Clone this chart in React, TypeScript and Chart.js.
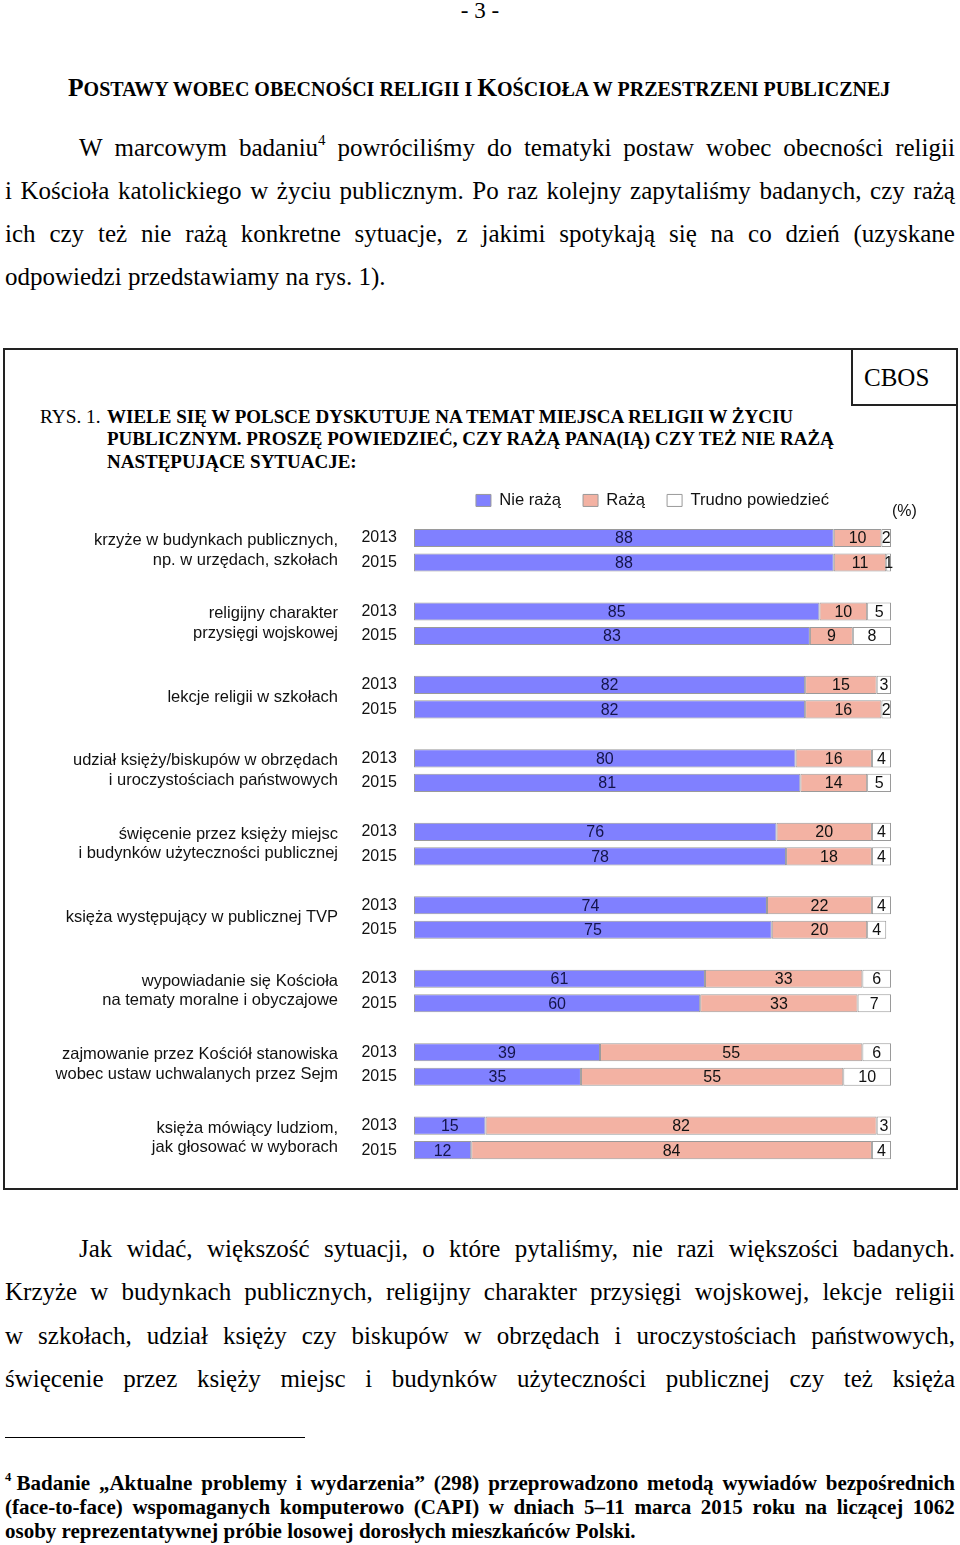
import React, { useEffect, useRef } from 'react';
import { Chart, registerables } from 'chart.js';

Chart.register(...registerables);

// ---------- DATA ----------
const groupLabels: string[][] = [
  ['krzyże w budynkach publicznych,', 'np. w urzędach, szkołach'],
  ['religijny charakter', 'przysięgi wojskowej'],
  ['lekcje religii w szkołach'],
  ['udział księży/biskupów w obrzędach', 'i uroczystościach państwowych'],
  ['święcenie przez księży miejsc', 'i budynków użyteczności publicznej'],
  ['księża występujący w publicznej TVP'],
  ['wypowiadanie się Kościoła', 'na tematy moralne i obyczajowe'],
  ['zajmowanie przez Kościół stanowiska', 'wobec ustaw uchwalanych przez Sejm'],
  ['księża mówiący ludziom,', 'jak głosować w wyborach'],
];
const years = ['2013', '2015'];
const seriesNames = ['Nie rażą', 'Rażą', 'Trudno powiedzieć'];

const nieRaza2013 = [88, 85, 82, 80, 76, 74, 61, 39, 15];
const nieRaza2015 = [88, 83, 82, 81, 78, 75, 60, 35, 12];
const raza2013 = [10, 10, 15, 16, 20, 22, 33, 55, 82];
const raza2015 = [11, 9, 16, 14, 18, 20, 33, 55, 84];
const trudno2013 = [2, 5, 3, 4, 4, 4, 6, 6, 3];
const trudno2015 = [1, 8, 2, 5, 4, 4, 7, 10, 4];

// ---------- STYLE ----------
const SERIF = '"Liberation Serif", "Times New Roman", serif';
const SANS = '"Liberation Sans", Arial, sans-serif';
const COLORS = ['#8080ff', '#f3b2a3', '#ffffff'];
const BORDER = '#9a9a9a';

function buildRows(a: number[], b: number[]): (number | null)[] {
  const out: (number | null)[] = [];
  a.forEach((v, i) => {
    out.push(v, b[i]);
    if (i < a.length - 1) out.push(null);
  });
  return out;
}

const categoryLabels: string[] = [];
groupLabels.forEach((_, i) => {
  categoryLabels.push(years[0], years[1]);
  if (i < groupLabels.length - 1) categoryLabels.push('');
});

const valueLabelPlugin = {
  id: 'valueLabels',
  afterDatasetsDraw(chart: any) {
    const ctx = chart.ctx;
    ctx.save();
    ctx.font = `16px ${SANS}`;
    ctx.textAlign = 'center';
    ctx.textBaseline = 'middle';
    chart.data.datasets.forEach((ds: any, di: number) => {
      const meta = chart.getDatasetMeta(di);
      meta.data.forEach((bar: any, idx: number) => {
        const v = ds.data[idx];
        if (v == null) return;
        const p = bar.getProps(['x', 'base', 'y'], true);
        ctx.fillStyle = di === 0 ? '#14144a' : '#111';
        ctx.fillText(String(v), (p.x + p.base) / 2, p.y + 1);
      });
    });
    ctx.restore();
  },
};

const groupLabelPlugin = {
  id: 'groupLabels',
  afterDraw(chart: any) {
    const ctx = chart.ctx;
    const yScale = chart.scales.y;
    ctx.save();
    ctx.font = `16.5px ${SANS}`;
    ctx.textAlign = 'right';
    ctx.textBaseline = 'middle';
    ctx.fillStyle = '#111';
    groupLabels.forEach((lines, g) => {
      const cy = (yScale.getPixelForValue(g * 3) + yScale.getPixelForValue(g * 3 + 1)) / 2;
      const lh = 19.5;
      const start = cy - ((lines.length - 1) * lh) / 2;
      lines.forEach((t, k) => ctx.fillText(t, 334, start + k * lh));
    });
    ctx.font = `16px ${SANS}`;
    ctx.textAlign = 'left';
    ctx.fillText('(%)', 888, 42);
    ctx.restore();
  },
};

function BarChart() {
  const ref = useRef<HTMLCanvasElement | null>(null);
  useEffect(() => {
    if (!ref.current) return;
    const datasets = [
      buildRows(nieRaza2013, nieRaza2015),
      buildRows(raza2013, raza2015),
      buildRows(trudno2013, trudno2015),
    ].map((data, i) => ({
      label: seriesNames[i],
      data,
      backgroundColor: COLORS[i],
      borderColor: BORDER,
      borderWidth: 1,
      borderSkipped: false,
      categoryPercentage: 1,
      barPercentage: 0.74,
    }));
    const chart = new Chart(ref.current, {
      type: 'bar',
      data: { labels: categoryLabels, datasets },
      plugins: [valueLabelPlugin, groupLabelPlugin],
      options: {
        indexAxis: 'y',
        responsive: false,
        animation: false,
        devicePixelRatio: 1,
        layout: { padding: { left: 0, right: 66, top: 0.15, bottom: 0 } },
        plugins: {
          tooltip: { enabled: false },
          legend: {
            display: true,
            position: 'top',
            fullSize: false,
            align: 'center',
            labels: {
              boxWidth: 15,
              boxHeight: 12,
              padding: 22,
              color: '#111',
              font: { family: SANS, size: 16.6 },
            },
          },
        },
        scales: {
          x: {
            type: 'linear',
            min: 0,
            max: 100,
            stacked: true,
            position: 'top',
            grid: { display: false },
            border: { display: false },
            ticks: { display: false },
            afterFit: (s: any) => {
              s.height = 7;
            },
          },
          y: {
            type: 'category',
            stacked: true,
            grid: { display: false, drawTicks: false },
            border: { display: false },
            ticks: {
              autoSkip: false,
              padding: 17,
              color: '#111',
              font: { family: SANS, size: 16 },
            },
            afterFit: (s: any) => {
              s.width = 410;
            },
          },
        },
      } as any,
    });
    return () => chart.destroy();
  }, []);
  return (
    <canvas
      ref={ref}
      width={953}
      height={719}
      style={{ position: 'absolute', left: 4, top: 470, width: 953, height: 719 }}
    />
  );
}

function renderWord(w: string) {
  const i = w.indexOf('^');
  if (i < 0) return w;
  const before = w.slice(0, i);
  const rest = w.slice(i + 1);
  const m = rest.match(/^(\d+)(.*)$/);
  if (!m) return w;
  return (
    <>
      {before}
      <span style={{ fontSize: '0.6em', position: 'relative', top: '-0.7em' }}>{m[1]}</span>
      {m[2]}
    </>
  );
}

type LineProps = {
  y: number;
  x: number;
  w: number;
  size: number;
  lh: number;
  text: string;
  bold?: boolean;
  justify?: boolean;
  extra?: React.CSSProperties;
};

function Line({ y, x, w, size, lh, text, bold, justify, extra }: LineProps) {
  const words = text.split(' ').filter((s) => s.length > 0);
  const base: React.CSSProperties = {
    position: 'absolute',
    left: x,
    top: y - lh / 2,
    width: w,
    height: lh,
    lineHeight: lh + 'px',
    fontFamily: SERIF,
    fontSize: size,
    fontWeight: bold ? 'bold' : 'normal',
    whiteSpace: 'nowrap',
    color: '#000',
    ...extra,
  };
  if (justify) {
    return (
      <div style={{ ...base, display: 'flex', justifyContent: 'space-between' }}>
        {words.map((wd, i) => (
          <span key={i}>{renderWord(wd)}</span>
        ))}
      </div>
    );
  }
  return (
    <div style={base}>
      {words.map((wd, i) => (
        <React.Fragment key={i}>
          {i > 0 ? ' ' : ''}
          {renderWord(wd)}
        </React.Fragment>
      ))}
    </div>
  );
}

const para1 = [
  'W marcowym badaniu^4 powróciliśmy do tematyki postaw wobec obecności religii',
  'i Kościoła katolickiego w życiu publicznym. Po raz kolejny zapytaliśmy badanych, czy rażą',
  'ich czy też nie rażą konkretne sytuacje, z jakimi spotykają się na co dzień (uzyskane',
  'odpowiedzi przedstawiamy na rys. 1).',
];
const para1Y = [147, 190, 233, 276];

const para2 = [
  'Jak widać, większość sytuacji, o które pytaliśmy, nie razi większości badanych.',
  'Krzyże w budynkach publicznych, religijny charakter przysięgi wojskowej, lekcje religii',
  'w szkołach, udział księży czy biskupów w obrzędach i uroczystościach państwowych,',
  'święcenie przez księży miejsc i budynków użyteczności publicznej czy też księża',
];
const para2Y = [1248, 1291, 1335, 1378];

const foot = [
  '^4\u00a0Badanie „Aktualne problemy i wydarzenia” (298) przeprowadzono metodą wywiadów bezpośrednich',
  '(face-to-face) wspomaganych komputerowo (CAPI) w dniach 5–11 marca 2015 roku na liczącej 1062',
  'osoby reprezentatywnej próbie losowej dorosłych mieszkańców Polski.',
];
const footY = [1483, 1507, 1531];

const titleLines = [
  'WIELE SIĘ W POLSCE DYSKUTUJE NA TEMAT MIEJSCA RELIGII W ŻYCIU',
  'PUBLICZNYM. PROSZĘ POWIEDZIEĆ, CZY RAŻĄ PANA(IĄ) CZY TEŻ NIE RAŻĄ',
  'NASTĘPUJĄCE SYTUACJE:',
];
const titleY = [416.5, 439, 461.5];

// heading parts: [text, isBigCap]
const headingParts: [string, boolean][] = [
  ['P', true],
  ['OSTAWY WOBEC OBECNOŚCI RELIGII I ', false],
  ['K', true],
  ['OŚCIOŁA W PRZESTRZENI PUBLICZNEJ', false],
];

export default function App() {
  return (
    <div
      style={{
        position: 'absolute',
        left: 0,
        top: 0,
        width: 960,
        height: 1545,
        background: '#fff',
        overflow: 'hidden',
      }}
    >
      <div
        style={{
          position: 'absolute',
          left: 0,
          top: 0,
          width: 960,
          textAlign: 'center',
          fontFamily: SERIF,
          fontSize: 23,
          lineHeight: '22px',
        }}
      >
        - 3 -
      </div>

      <div
        style={{
          position: 'absolute',
          left: 68,
          top: 75,
          width: 890,
          height: 26,
          lineHeight: '26px',
          fontFamily: SERIF,
          fontWeight: 'bold',
          whiteSpace: 'nowrap',
        }}
      >
        {headingParts.map(([t, big], i) => (
          <span key={i} style={{ fontSize: big ? 25.5 : 20 }}>
            {t}
          </span>
        ))}
      </div>

      {para1.map((t, i) => (
        <Line
          key={'p1' + i}
          y={para1Y[i]}
          x={i === 0 ? 79 : 5}
          w={i === 0 ? 876 : 950}
          size={25}
          lh={43}
          text={t}
          justify={i < 3}
        />
      ))}

      {/* chart frame */}
      <div
        style={{
          position: 'absolute',
          left: 3,
          top: 348,
          width: 955,
          height: 842,
          border: '2px solid #222',
          boxSizing: 'border-box',
        }}
      />
      <div
        style={{
          position: 'absolute',
          left: 851,
          top: 348,
          width: 107,
          height: 58,
          borderLeft: '2px solid #222',
          borderBottom: '2px solid #222',
          boxSizing: 'border-box',
          fontFamily: SERIF,
          fontSize: 25,
          lineHeight: '60px',
          paddingLeft: 11,
        }}
      >
        CBOS
      </div>

      <Line y={titleY[0]} x={40} w={70} size={19.3} lh={22} text="RYS. 1." />
      {titleLines.map((t, i) => (
        <Line key={'t' + i} y={titleY[i]} x={107} w={760} size={19} lh={22} bold text={t} />
      ))}

      <BarChart />

      {para2.map((t, i) => (
        <Line
          key={'p2' + i}
          y={para2Y[i]}
          x={i === 0 ? 79 : 5}
          w={i === 0 ? 876 : 950}
          size={25}
          lh={43}
          text={t}
          justify
        />
      ))}

      <div
        style={{
          position: 'absolute',
          left: 5,
          top: 1437,
          width: 300,
          height: 1,
          background: '#000',
        }}
      />

      {foot.map((t, i) => (
        <Line
          key={'f' + i}
          y={footY[i]}
          x={5}
          w={950}
          size={21}
          lh={24}
          bold
          text={t}
          justify={i < 2}
        />
      ))}
    </div>
  );
}
